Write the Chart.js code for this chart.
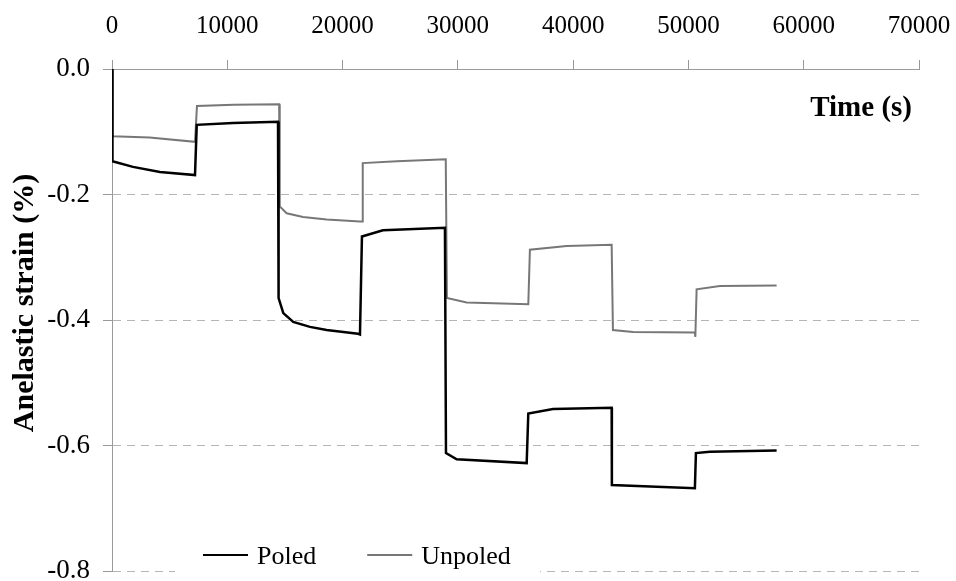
<!DOCTYPE html>
<html>
<head>
<meta charset="utf-8">
<script src="https://cdn.jsdelivr.net/npm/chart.js@4.4.0/dist/chart.umd.min.js"></script>
<style>
  html, body { margin: 0; padding: 0; background: #fff; }
  #wrap { width: 956px; height: 581px; }
</style>
</head>
<body>
<div id="wrap"><canvas id="chartStrain"></canvas></div>
<script>
"use strict";

// tick labels
var timeTicks   = [0, 10000, 20000, 30000, 40000, 50000, 60000, 70000];
var strainTicks = [0, -0.2, -0.4, -0.6, -0.8];

// Poled series (time in s, strain in %)
var poledTime   = [0, 40, 1820, 4160, 7200, 7250, 7350, 10490, 14400, 14450, 14860, 15720, 17170, 18620, 21340,
                   21510, 21680, 23500, 28880, 28970, 29900, 35970, 36110, 38250, 43340, 43360, 50560, 50650, 51860, 57650];
var poledStrain = [0, -0.147, -0.156, -0.164, -0.169, -0.169, -0.089, -0.086, -0.084, -0.365, -0.389, -0.403, -0.411, -0.416, -0.422,
                   -0.423, -0.267, -0.257, -0.253, -0.612, -0.622, -0.628, -0.549, -0.542, -0.540, -0.663, -0.668, -0.612, -0.610, -0.608];

// Unpoled series
var unpoledTime   = [0, 40, 3260, 7200, 7250, 7370, 10550, 14500, 14550, 15150, 16570, 18620, 21510,
                     21700, 21750, 24710, 28950, 29050, 30760, 36110, 36250, 39440, 43340, 43450, 45210, 50560, 50600,
                     50710, 52730, 57650];
var unpoledStrain = [0, -0.107, -0.109, -0.116, -0.116, -0.059, -0.057, -0.056, -0.219, -0.230, -0.236, -0.240, -0.243,
                     -0.243, -0.150, -0.147, -0.144, -0.365, -0.372, -0.375, -0.288, -0.282, -0.280, -0.416, -0.419, -0.420, -0.427,
                     -0.351, -0.346, -0.345];

var SERIF = "'Liberation Serif', 'Times New Roman', serif";

function toPoints(xs, ys) {
  return xs.map(function (x, i) { return { x: x, y: ys[i] }; });
}

// axis titles and the in-plot legend
var overlayPlugin = {
  id: 'overlay',
  afterDraw: function (chart) {
    var ctx = chart.ctx;
    var area = chart.chartArea;
    ctx.save();

    ctx.font = 'bold 29px ' + SERIF;
    ctx.fillStyle = '#000';
    ctx.textAlign = 'right';
    ctx.textBaseline = 'middle';
    ctx.fillText('Time (s)', area.right - 7, area.top + 40);

    // y title, rotated
    ctx.save();
    ctx.translate(25, 303);
    ctx.rotate(-Math.PI / 2);
    ctx.textAlign = 'center';
    ctx.font = 'bold 30px ' + SERIF;
    ctx.fillText('Anelastic strain (%)', 0, 0);
    ctx.restore();

    // legend
    ctx.font = '26px ' + SERIF;
    ctx.fillStyle = '#fff';
    ctx.fillRect(area.left + 63, area.bottom - 30, 365, 40);
    var x = area.left + 91;
    var yLine = area.bottom - 16;
    ctx.textAlign = 'left';
    chart.data.datasets.forEach(function (ds) {
      ctx.strokeStyle = ds.borderColor;
      ctx.lineWidth = 2;
      ctx.beginPath();
      ctx.moveTo(x, yLine);
      ctx.lineTo(x + 45, yLine);
      ctx.stroke();
      ctx.fillStyle = '#000';
      ctx.fillText(ds.label, x + 54, yLine + 2);
      x += 54 + ctx.measureText(ds.label).width + 51;
    });
    ctx.restore();
  }
};

new Chart(document.getElementById('chartStrain'), {
  type: 'line',
  data: {
    datasets: [{
      label: 'Poled',
      data: toPoints(poledTime, poledStrain),
      borderColor: '#000',
      borderWidth: 2.5,
      pointRadius: 0,
      tension: 0
    }, {
      label: 'Unpoled',
      data: toPoints(unpoledTime, unpoledStrain),
      borderColor: '#777',
      borderWidth: 2,
      pointRadius: 0,
      tension: 0
    }]
  },
  options: {
    responsive: true,
    maintainAspectRatio: false,
    animation: false,
    devicePixelRatio: 1,
    layout: { padding: { left: 0, right: 37, top: 0, bottom: 10 } },
    plugins: {
      legend: { display: false },
      tooltip: { enabled: false }
    },
    scales: {
      x: {
        type: 'linear',
        position: 'top',
        min: 0,
        max: 70000,
        afterBuildTicks: function (s) { s.ticks = timeTicks.map(function (v) { return { value: v }; }); },
        afterFit: function (s) { s.height = 69; s.paddingLeft = 0; s.paddingRight = 0; },
        ticks: {
          font: { family: SERIF, size: 25 },
          color: '#000',
          padding: 19,
          maxRotation: 0,
          callback: function (v) { return String(v); }
        },
        grid: { drawOnChartArea: false, tickLength: 9, tickColor: '#999', tickBorderDash: [] },
        border: { color: '#999', width: 1 }
      },
      y: {
        type: 'linear',
        min: -0.8,
        max: 0,
        afterBuildTicks: function (s) { s.ticks = strainTicks.map(function (v) { return { value: v }; }); },
        afterFit: function (s) { s.width = 112; s.paddingTop = 0; s.paddingBottom = 0; },
        ticks: {
          font: { family: SERIF, size: 27 },
          color: '#000',
          padding: 13,
          callback: function (v) { return v.toFixed(1); }
        },
        grid: {
          color: function (c) { return c.tick && c.tick.value === 0 ? 'rgba(0,0,0,0)' : '#b5b5b5'; },
          tickLength: 9,
          tickColor: '#999',
          tickBorderDash: []
        },
        border: { color: '#999', width: 1, dash: [8, 6] },
        title: { display: false }
      }
    }
  },
  plugins: [overlayPlugin]
});
</script>
</body>
</html>
